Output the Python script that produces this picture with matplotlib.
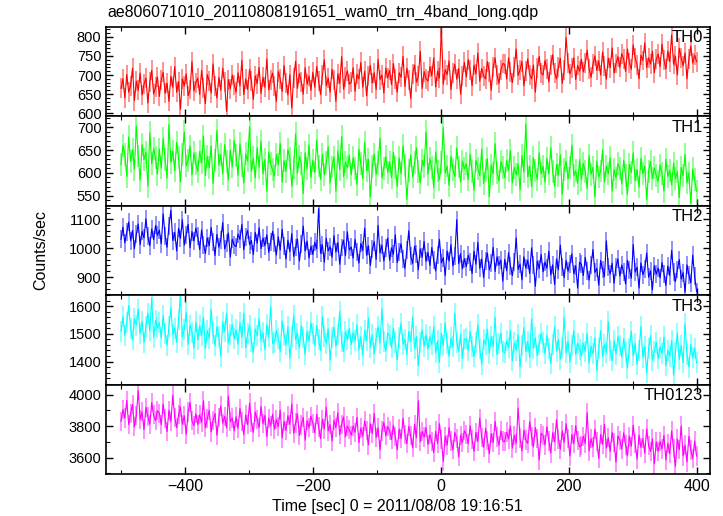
import numpy as np
import matplotlib.pyplot as plt
from matplotlib.ticker import MultipleLocator

plt.rcParams['font.family'] = ['Liberation Sans', 'DejaVu Sans']

# time axis: 3 s spacing from -500 to 400
t_start, t_step = -500, 3

th0 = [665, 690, 640, 701, 655, 672, 718, 633, 684, 660, 705, 648, 676, 692, 627, 681, 712, 650, 668, 695,
       644, 688, 707, 652, 679, 631, 697, 668, 722, 655, 683, 610, 690, 671, 703, 646, 662, 735, 658, 680,
       692, 649, 712, 667, 625, 701, 684, 653, 729, 672, 640, 694, 660, 718, 681, 605, 688, 664, 700, 675,
       655, 706, 671, 738, 649, 690, 662, 715, 684, 636, 698, 677, 720, 652, 694, 668, 742, 661, 688, 705,
       672, 631, 709, 690, 657, 725, 680, 648, 701, 614, 693, 736, 665, 704, 682, 650, 719, 676, 697, 660,
       707, 668, 722, 684, 649, 699, 740, 672, 692, 655, 715, 686, 631, 703, 678, 748, 663, 694, 711, 676,
       681, 719, 657, 702, 690, 733, 668, 710, 646, 697, 725, 679, 706, 662, 741, 688, 700, 653, 718, 692,
       712, 675, 730, 689, 655, 706, 694, 749, 670, 718, 688, 639, 703, 726, 681, 697, 762, 665, 709, 690,
       684, 722, 698, 745, 669, 710, 692, 823, 676, 714, 701, 737, 662, 706, 728, 689, 717, 650, 698, 733,
       695, 740, 712, 672, 726, 703, 758, 684, 717, 698, 690, 735, 708, 660, 721, 745, 700, 678, 713, 730,
       728, 690, 745, 707, 680, 721, 768, 699, 714, 735, 672, 710, 742, 701, 690, 726, 655, 718, 749, 705,
       700, 738, 715, 682, 727, 753, 706, 690, 721, 744, 678, 712, 798, 731, 703, 719, 745, 688, 725, 710,
       741, 708, 732, 765, 716, 694, 728, 750, 712, 737, 700, 760, 723, 689, 744, 719, 771, 705, 730, 748,
       720, 756, 741, 709, 768, 732, 715, 779, 745, 726, 690, 752, 738, 784, 719, 745, 729, 762, 706, 741,
       755, 722, 781, 740, 716, 763, 735, 805, 728, 749, 700, 770, 745, 724, 758, 690, 742, 776, 731, 752,
       735]

th1 = [618, 660, 641, 592, 679, 625, 651, 608, 703, 637, 584, 662, 629, 645, 571, 688, 620, 654, 633, 597,
       652, 611, 675, 630, 589, 706, 623, 648, 605, 667, 634, 580, 641, 690, 615, 628, 659, 596, 644, 620,
       603, 647, 622, 681, 594, 636, 611, 659, 577, 628, 693, 617, 640, 598, 662, 625, 585, 650, 613, 671,
       638, 595, 664, 617, 578, 642, 626, 701, 604, 633, 589, 655, 612, 670, 598, 629, 560, 646, 621, 607,
       593, 640, 618, 665, 580, 627, 603, 651, 632, 571, 612, 686, 599, 636, 620, 555, 644, 609, 661, 590,
       628, 601, 672, 615, 586, 641, 596, 622, 657, 578, 613, 635, 560, 648, 607, 680, 592, 624, 611, 639,
       596, 633, 610, 575, 652, 620, 588, 667, 605, 630, 548, 614, 641, 597, 623, 676, 589, 610, 636, 601,
       624, 589, 645, 612, 570, 633, 598, 660, 617, 542, 606, 639, 591, 622, 655, 603, 578, 628, 614, 690,
       597, 631, 611, 568, 646, 604, 585, 622, 699, 600, 615, 573, 637, 608, 592, 655, 613, 580, 626, 609,
       620, 585, 641, 603, 562, 628, 610, 594, 652, 577, 606, 631, 548, 617, 598, 664, 600, 582, 625, 611,
       589, 627, 606, 649, 578, 612, 596, 620, 563, 638, 602, 707, 591, 615, 570, 633, 605, 586, 644, 598,
       614, 580, 632, 598, 655, 603, 571, 619, 595, 640, 553, 608, 626, 587, 612, 661, 594, 605, 577, 629,
       585, 621, 603, 566, 638, 597, 612, 548, 626, 591, 604, 650, 580, 615, 598, 633, 560, 607, 589, 620,
       610, 576, 628, 595, 553, 619, 601, 644, 583, 607, 569, 632, 598, 615, 541, 603, 625, 588, 611, 594,
       581, 617, 598, 560, 630, 592, 606, 574, 621, 587, 603, 546, 612, 594, 640, 578, 600, 533, 609, 585,
       560]

th2 = [1030, 1072, 1018, 1055, 1090, 1026, 1061, 998, 1047, 1083, 1012, 1058, 1035, 1101, 1040, 1008, 1066, 1029, 1078, 1044,
       1062, 1015, 1118, 1041, 1003, 1077, 1130, 1026, 1054, 990, 1068, 1033, 1098, 1010, 1045, 1082, 1001, 1057, 1024, 1069,
       1040, 995, 1063, 1012, 981, 1035, 1008, 1071, 1022, 974, 1047, 1003, 1029, 1088, 997, 1016, 1052, 969, 1031, 1010,
       1005, 1048, 1030, 1082, 994, 1039, 1061, 1012, 1026, 978, 1054, 1017, 1070, 998, 1035, 1008, 1046, 985, 1021, 1058,
       1018, 976, 1039, 993, 1065, 1008, 962, 1027, 988, 1050, 971, 1002, 1031, 955, 1013, 1076, 990, 1024, 966, 1007,
       978, 1020, 997, 1136, 982, 1011, 951, 1034, 990, 1005, 968, 1043, 986, 1019, 944, 1002, 1027, 973, 1056, 993,
       1004, 965, 1030, 987, 948, 1016, 992, 1069, 975, 1008, 940, 996, 1022, 961, 1078, 983, 1010, 955, 999, 1035,
       958, 1001, 979, 1046, 950, 988, 1015, 963, 930, 992, 1060, 972, 947, 1006, 981, 925, 997, 968, 1023, 954,
       985, 940, 1002, 958, 921, 976, 1030, 949, 967, 905, 990, 955, 1012, 938, 971, 1098, 946, 981, 928, 963,
       936, 975, 951, 912, 989, 944, 1020, 930, 962, 898, 955, 983, 925, 948, 1003, 919, 970, 941, 958, 886,
       961, 922, 984, 938, 905, 952, 1035, 926, 945, 890, 970, 931, 958, 912, 1001, 940, 868, 955, 929, 978,
       918, 952, 930, 989, 907, 942, 874, 963, 925, 1010, 936, 898, 957, 920, 946, 980, 911, 939, 862, 951,
       944, 905, 968, 922, 889, 941, 995, 916, 930, 872, 957, 926, 901, 1025, 933, 910, 948, 878, 936, 962,
       903, 941, 918, 876, 958, 925, 896, 1012, 917, 934, 862, 949, 908, 927, 983, 899, 921, 855, 939, 910,
       931, 897, 950, 912, 871, 938, 905, 992, 918, 884, 926, 960, 893, 915, 848, 942, 907, 880, 975, 902,
       850]

th3 = [1510, 1562, 1495, 1541, 1603, 1520, 1478, 1555, 1532, 1590, 1501, 1546, 1469, 1527, 1575, 1512, 1630, 1488, 1549, 1522,
       1540, 1486, 1567, 1503, 1459, 1528, 1595, 1497, 1521, 1470, 1553, 1636, 1490, 1515, 1580, 1462, 1532, 1506, 1448, 1544,
       1478, 1530, 1495, 1561, 1447, 1512, 1484, 1588, 1503, 1457, 1526, 1491, 1420, 1543, 1509, 1575, 1468, 1497, 1534, 1482,
       1515, 1463, 1540, 1488, 1575, 1450, 1502, 1529, 1471, 1432, 1518, 1493, 1556, 1476, 1504, 1444, 1534, 1489, 1599, 1465,
       1470, 1512, 1483, 1436, 1547, 1495, 1461, 1526, 1412, 1490, 1568, 1478, 1503, 1448, 1531, 1486, 1425, 1509, 1474, 1540,
       1502, 1459, 1531, 1480, 1440, 1563, 1491, 1467, 1518, 1405, 1486, 1524, 1455, 1497, 1582, 1471, 1436, 1508, 1479, 1520,
       1461, 1505, 1476, 1533, 1443, 1490, 1422, 1512, 1475, 1558, 1452, 1497, 1428, 1484, 1526, 1466, 1591, 1471, 1438, 1503,
       1494, 1450, 1521, 1468, 1405, 1487, 1539, 1462, 1480, 1426, 1509, 1473, 1560, 1447, 1491, 1385, 1470, 1515, 1456, 1498,
       1445, 1490, 1462, 1527, 1431, 1475, 1397, 1503, 1458, 1540, 1466, 1420, 1486, 1454, 1575, 1470, 1438, 1499, 1411, 1481,
       1482, 1440, 1509, 1455, 1418, 1470, 1534, 1446, 1389, 1478, 1462, 1517, 1430, 1491, 1453, 1560, 1425, 1466, 1502, 1437,
       1431, 1476, 1450, 1513, 1402, 1468, 1441, 1497, 1380, 1459, 1523, 1436, 1472, 1415, 1555, 1448, 1486, 1422, 1463, 1501,
       1470, 1428, 1495, 1446, 1392, 1461, 1526, 1437, 1480, 1409, 1452, 1560, 1431, 1474, 1398, 1458, 1511, 1425, 1466, 1443,
       1421, 1467, 1438, 1501, 1395, 1455, 1429, 1486, 1366, 1447, 1512, 1418, 1463, 1432, 1545, 1440, 1403, 1476, 1427, 1490,
       1458, 1415, 1483, 1432, 1376, 1449, 1509, 1421, 1466, 1390, 1440, 1528, 1413, 1455, 1360, 1447, 1494, 1405, 1437, 1470,
       1410, 1452, 1428, 1489, 1385, 1441, 1419, 1476, 1350, 1433, 1502, 1408, 1458, 1396, 1537, 1425, 1380, 1462, 1414, 1448,
       1395]

th0123 = [3830, 3905, 3851, 3962, 3810, 3879, 3936, 3795, 3868, 4025, 3842, 3891, 3777, 3920, 3860, 3812, 3948, 3871, 3835, 3897,
          3882, 3808, 3940, 3847, 3765, 3901, 3829, 3995, 3856, 3790, 3873, 3920, 3812, 3866, 3748, 3889, 3950, 3834, 3802, 3878,
          3810, 3872, 3825, 3960, 3789, 3848, 3901, 3763, 3836, 3880, 3742, 3855, 3927, 3818, 3862, 3790, 3990, 3827, 3851, 3770,
          3858, 3786, 3912, 3830, 3745, 3871, 3809, 3946, 3822, 3760, 3889, 3841, 3790, 3925, 3815, 3868, 3732, 3850, 3801, 3876,
          3780, 3842, 3796, 3901, 3725, 3830, 3772, 3866, 3811, 3940, 3754, 3820, 3878, 3740, 3807, 3855, 3710, 3834, 3790, 3862,
          3818, 3757, 3875, 3794, 3720, 3842, 3781, 3920, 3769, 3810, 3705, 3836, 3790, 3885, 3746, 3812, 3858, 3731, 3800, 3776,
          3742, 3801, 3760, 3855, 3695, 3788, 3736, 3832, 3770, 3680, 3815, 3752, 3880, 3727, 3790, 3650, 3768, 3823, 3738, 3796,
          3770, 3715, 3806, 3732, 3650, 3781, 3720, 3850, 3745, 3688, 3798, 3739, 3662, 3812, 3725, 3960, 3701, 3766, 3730, 3790,
          3684, 3745, 3702, 3632, 3768, 3690, 3815, 3715, 3575, 3736, 3680, 3790, 3706, 3650, 3760, 3722, 3605, 3741, 3695, 3770,
          3745, 3688, 3802, 3715, 3640, 3760, 3702, 3850, 3728, 3665, 3785, 3710, 3625, 3752, 3696, 3830, 3731, 3678, 3770, 3705,
          3701, 3762, 3718, 3800, 3660, 3741, 3690, 3915, 3725, 3642, 3775, 3712, 3690, 3828, 3735, 3668, 3790, 3720, 3585, 3755,
          3740, 3680, 3795, 3705, 3630, 3758, 3700, 3842, 3718, 3652, 3770, 3695, 3815, 3722, 3610, 3746, 3690, 3802, 3710, 3668,
          3678, 3735, 3690, 3885, 3642, 3720, 3668, 3780, 3702, 3595, 3748, 3685, 3812, 3660, 3726, 3640, 3760, 3695, 3572, 3738,
          3710, 3655, 3758, 3680, 3610, 3736, 3672, 3805, 3690, 3590, 3742, 3665, 3720, 3628, 3782, 3675, 3640, 3718, 3560, 3700,
          3640, 3702, 3655, 3740, 3585, 3690, 3625, 3770, 3660, 3545, 3718, 3650, 3800, 3610, 3680, 3572, 3735, 3648, 3595, 3705,
          3610]

band_names = ["TH0", "TH1", "TH2", "TH3", "TH0123"]
band_rates = [th0, th1, th2, th3, th0123]
band_errors = [26, 25, 31, 38, 61]   # ~sqrt(counts) per bin
band_colors = ["#ff0000", "#00ff00", "#0000ff", "#00ffff", "#ff00ff"]
y_limits = [(592, 826), (528, 724), (837, 1146), (1316, 1640), (3495, 4062)]
y_major = [50, 50, 100, 100, 200]
y_minor = [10, 10, 20, 20, 100]

fig, axes = plt.subplots(5, 1, figsize=(7.23, 5.16), dpi=100, sharex=True)
fig.subplots_adjust(left=0.147, right=0.982, top=0.948, bottom=0.081, hspace=0)

for i, ax in enumerate(axes):
    y = np.array(band_rates[i], dtype=float)
    t = t_start + t_step * np.arange(len(y))
    err = band_errors[i]
    col = band_colors[i]
    ax.vlines(t, y - err, y + err, color=col, alpha=0.5, lw=1.2)
    ax.plot(t, y, color=col, lw=0.8)
    ax.set_ylim(*y_limits[i])
    ax.set_xlim(-523, 421)
    ax.yaxis.set_major_locator(MultipleLocator(y_major[i]))
    ax.yaxis.set_minor_locator(MultipleLocator(y_minor[i]))
    ax.xaxis.set_major_locator(MultipleLocator(200))
    ax.xaxis.set_minor_locator(MultipleLocator(100))
    ax.tick_params(which='both', direction='in', top=True, right=True)
    ax.tick_params(axis='y', labelsize=10.5)
    ax.tick_params(axis='x', labelsize=11.5)
    ax.tick_params(which='major', length=5, width=1)
    ax.tick_params(which='minor', length=3, width=0.8)
    for s in ax.spines.values():
        s.set_linewidth(1.2)
    ax.text(0.988, 0.96, band_names[i], transform=ax.transAxes, ha='right', va='top', fontsize=12)

fig.text(0.55, 0.019, "Time [sec] 0 = 2011/08/08 19:16:51", ha='center', va='center', fontsize=11.5)
fig.text(0.056, 0.515, "Counts/sec", rotation=90, ha='center', va='center', fontsize=11.5)
fig.text(0.149, 0.962, "ae806071010_20110808191651_wam0_trn_4band_long.qdp", ha='left', va='bottom', fontsize=11.4)

plt.savefig("out.png")
